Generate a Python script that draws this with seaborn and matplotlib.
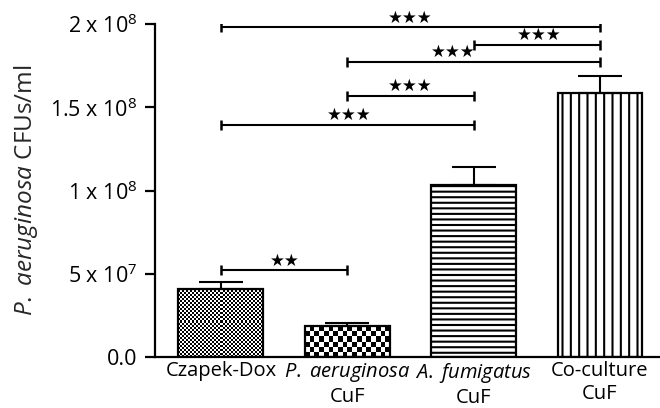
import numpy as np
import pandas as pd
import matplotlib
matplotlib.use("Agg")
import matplotlib.pyplot as plt
import seaborn as sns

# ---- data ----
categories = ["Czapek-Dox", "P. aeruginosa CuF", "A. fumigatus CuF", "Co-culture CuF"]
tick_labels = ["Czapek-Dox", "$\\mathit{P.}$ $\\mathit{aeruginosa}$\nCuF",
               "$\\mathit{A.}$ $\\mathit{fumigatus}$\nCuF", "Co-culture\nCuF"]
means = [4.1e7, 1.85e7, 1.036e8, 1.587e8]
errors = [0.42e7, 0.2e7, 1.05e7, 1.03e7]
ytick_vals = [0, 5e7, 1e8, 1.5e8, 2e8]
ytick_labels = ["0.0", "5 x 10$\\mathregular{^7}$", "1 x 10$\\mathregular{^8}$",
                "1.5 x 10$\\mathregular{^8}$", "2 x 10$\\mathregular{^8}$"]
# significance brackets: left group, right group, height, label x, label
br_left = [0, 2, 1, 1, 0, 0]
br_right = [3, 3, 3, 2, 2, 1]
br_height = [1.98e8, 1.874e8, 1.772e8, 1.57e8, 1.395e8, 0.52e8]
br_label_x = [1.5, 2.52, 1.84, 1.5, 1.02, 0.51]
br_label = ["★★★", "★★★", "★★★", "★★★", "★★★", "★★"]

sns.set_theme(style="ticks")
plt.rcParams["font.family"] = ["Open Sans", "DejaVu Sans"]
plt.rcParams["mathtext.fontset"] = "custom"
plt.rcParams["mathtext.rm"] = "Open Sans"
plt.rcParams["mathtext.it"] = "Open Sans:italic"
plt.rcParams["hatch.linewidth"] = 1.5
plt.rcParams["hatch.color"] = "black"

df = pd.DataFrame({"group": categories, "value": means})

fig = plt.figure(figsize=(6.6, 4.08), dpi=100)
ax = fig.add_axes([0.235, 0.125, 0.765, 0.816])

sns.barplot(data=df, x="group", y="value", order=categories, color="white",
            edgecolor="black", linewidth=1.6, width=0.67, errorbar=None, ax=ax,
            saturation=1)

ax.errorbar(range(len(means)), means, yerr=[np.zeros(len(means)), errors],
            fmt="none", ecolor="black", elinewidth=1.5, capsize=15.5,
            capthick=1.5, zorder=3)

ax.set_xlim(-0.52, 3.475)
ax.set_ylim(0, 2e8)
ax.set_yticks(ytick_vals)
ax.set_yticklabels(ytick_labels, fontsize=15.5)
ax.set_xticks(range(len(categories)))
ax.set_xticklabels(tick_labels, fontsize=14.5, linespacing=1.2)
ax.set_xlabel("")
ax.set_ylabel("$\\mathit{P.}$ $\\mathit{aeruginosa}$ CFUs/ml", fontsize=17.5, labelpad=7)
ax.tick_params(axis="y", length=7, width=1.6, pad=6, colors="black")
ax.tick_params(axis="x", length=0, pad=3, colors="black")
for s in ["top", "right"]:
    ax.spines[s].set_visible(False)
for s in ["left", "bottom"]:
    ax.spines[s].set_linewidth(1.6)
    ax.spines[s].set_color("black")

patches = list(ax.patches)
patches[2].set_hatch("---")
patches[3].set_hatch("||")

fig.canvas.draw()
# checkerboards for first two bars
for p, cell in zip(patches[:2], [2.0, 4.8]):
    bb = p.get_window_extent()
    nx = max(1, int(round(bb.width / cell)))
    ny = max(1, int(round(bb.height / cell)))
    yy, xx = np.mgrid[0:ny, 0:nx]
    board = ((xx + yy) % 2).astype(float)
    x0, y0 = p.get_x(), p.get_y()
    ax.imshow(board, cmap="gray", extent=[x0, x0 + p.get_width(), y0, y0 + p.get_height()],
              origin="lower", interpolation="nearest", aspect="auto",
              clip_path=p, clip_on=True, zorder=p.get_zorder() + 0.1)
    p.set_zorder(p.get_zorder() + 0.2)
    p.set_facecolor("none")

ax.set_xlim(-0.52, 3.475)
ax.set_ylim(0, 2e8)

for l, r, h, lx, lab in zip(br_left, br_right, br_height, br_label_x, br_label):
    ax.plot([l, r], [h, h], color="black", lw=1.5, solid_capstyle="butt", zorder=4)
    ax.plot([l, r], [h, h], ls="none", marker="|", ms=7, mew=1.8, color="black", zorder=4)
    ax.annotate(lab, (lx, h), xytext=(0, 0.5), textcoords="offset points",
                ha="center", va="bottom", fontsize=12, family="DejaVu Sans",
                color="black", zorder=5)

fig.savefig("out.png", dpi=100)
